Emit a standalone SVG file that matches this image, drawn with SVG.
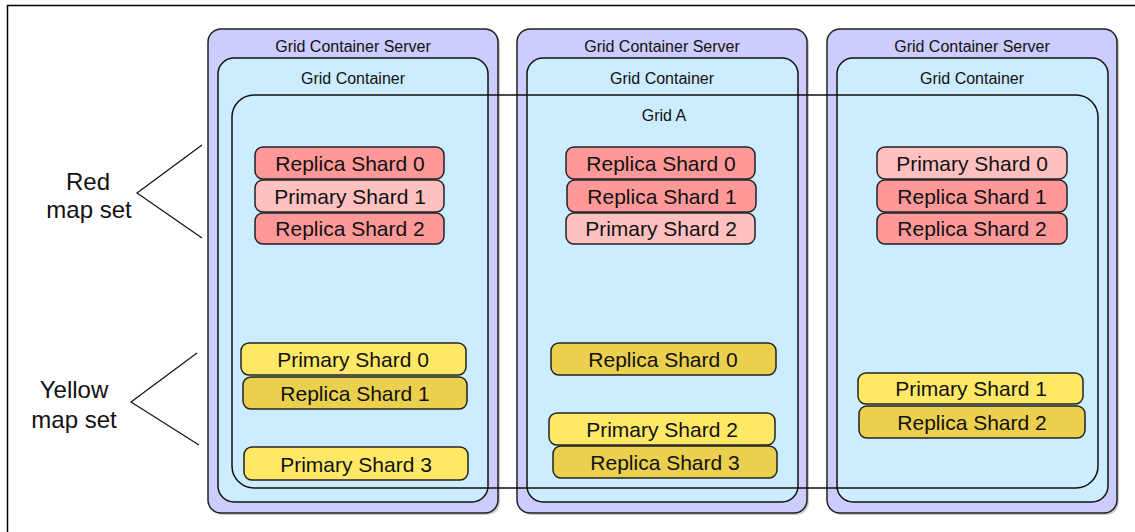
<svg xmlns="http://www.w3.org/2000/svg" width="1135" height="532" viewBox="0 0 1135 532">
<style>
text{font-family:"Liberation Sans",Arial,sans-serif;fill:#111;text-anchor:middle}
.server{fill:#CCCCFF;stroke:#222;stroke-width:1.5}
.cont{fill:#CCECFF;stroke:#111;stroke-width:1.5}
.shard{stroke:#222;stroke-width:1.5}
.rp{fill:#FFC0C0}.rr{fill:#FF9999}.yp{fill:#FFE866}.yr{fill:#EBCF4E}
.st{font-size:21px}
.hdr{font-size:16px}
.lbl{font-size:24px}
.conn{fill:none;stroke:#111;stroke-width:1.2}
</style>
<rect x="0" y="0" width="1135" height="532" fill="#fff"/>
<rect x="7.5" y="5.5" width="1140" height="540" fill="none" stroke="#000" stroke-width="1.5"/>
<g id="server1">
<rect x="210" y="31" width="290" height="484" rx="13" fill="#999" opacity="0.5"/>
<rect class="server" x="208" y="29" width="290" height="484" rx="13"/>
<text class="hdr" x="353" y="52">Grid Container Server</text>
</g>
<g id="server2">
<rect x="519" y="31" width="290" height="484" rx="13" fill="#999" opacity="0.5"/>
<rect class="server" x="517" y="29" width="290" height="484" rx="13"/>
<text class="hdr" x="662" y="52">Grid Container Server</text>
</g>
<g id="server3">
<rect x="829" y="31" width="290" height="484" rx="13" fill="#999" opacity="0.5"/>
<rect class="server" x="827" y="29" width="290" height="484" rx="13"/>
<text class="hdr" x="972" y="52">Grid Container Server</text>
</g>
<g id="container1">
<rect class="cont" x="218" y="58" width="270" height="444" rx="16"/>
<text class="hdr" x="353" y="84">Grid Container</text>
</g>
<g id="container2">
<rect class="cont" x="527" y="58" width="271" height="444" rx="16"/>
<text class="hdr" x="662" y="84">Grid Container</text>
</g>
<g id="container3">
<rect class="cont" x="837" y="58" width="271" height="444" rx="16"/>
<text class="hdr" x="972" y="84">Grid Container</text>
</g>
<g id="gridA">
<rect x="232" y="95" width="866" height="393" rx="22" fill="none" stroke="#111" stroke-width="1.5"/>
<text class="hdr" x="664" y="121">Grid A</text>
</g>
<g id="c1-red">
<rect class="shard rr" x="255" y="147" width="189" height="32" rx="8"/><text class="st" x="350" y="171">Replica Shard 0</text>
<rect class="shard rp" x="255" y="180" width="189" height="32" rx="8"/><text class="st" x="350" y="204">Primary Shard 1</text>
<rect class="shard rr" x="255" y="213" width="189" height="31" rx="8"/><text class="st" x="350" y="236">Replica Shard 2</text>
</g>
<g id="c1-yellow">
<rect class="shard yp" x="241" y="343" width="225" height="32" rx="8"/><text class="st" x="353" y="367">Primary Shard 0</text>
<rect class="shard yr" x="243" y="377" width="224" height="32" rx="8"/><text class="st" x="355" y="401">Replica Shard 1</text>
<rect class="shard yp" x="244" y="447" width="224" height="33" rx="8"/><text class="st" x="356" y="472">Primary Shard 3</text>
</g>
<g id="c2-red">
<rect class="shard rr" x="566" y="147" width="189" height="32" rx="8"/><text class="st" x="661" y="171">Replica Shard 0</text>
<rect class="shard rr" x="567" y="180" width="189" height="32" rx="8"/><text class="st" x="662" y="204">Replica Shard 1</text>
<rect class="shard rp" x="566" y="213" width="189" height="31" rx="8"/><text class="st" x="661" y="236">Primary Shard 2</text>
</g>
<g id="c2-yellow">
<rect class="shard yr" x="551" y="343" width="225" height="32" rx="8"/><text class="st" x="663" y="367">Replica Shard 0</text>
<rect class="shard yp" x="549" y="413" width="226" height="32" rx="8"/><text class="st" x="662" y="437">Primary Shard 2</text>
<rect class="shard yr" x="553" y="446" width="224" height="32" rx="8"/><text class="st" x="665" y="470">Replica Shard 3</text>
</g>
<g id="c3-red">
<rect class="shard rp" x="877" y="147" width="190" height="32" rx="8"/><text class="st" x="972" y="171">Primary Shard 0</text>
<rect class="shard rr" x="877" y="180" width="190" height="32" rx="8"/><text class="st" x="972" y="204">Replica Shard 1</text>
<rect class="shard rr" x="877" y="213" width="190" height="31" rx="8"/><text class="st" x="972" y="236">Replica Shard 2</text>
</g>
<g id="c3-yellow">
<rect class="shard yp" x="858" y="373" width="225" height="31" rx="8"/><text class="st" x="971" y="396">Primary Shard 1</text>
<rect class="shard yr" x="859" y="406" width="226" height="32" rx="8"/><text class="st" x="972" y="430">Replica Shard 2</text>
</g>
<g id="label-red">
<text class="lbl" x="88" y="190">Red</text>
<text class="lbl" x="89" y="218">map set</text>
</g>
<g id="label-yellow">
<text class="lbl" x="74" y="398">Yellow</text>
<text class="lbl" x="74" y="428">map set</text>
</g>
<g id="connectors">
<polyline class="conn" points="202,145 137,193 202,238"/>
<polyline class="conn" points="197,353 131,402 199,445"/>
</g>
</svg>
